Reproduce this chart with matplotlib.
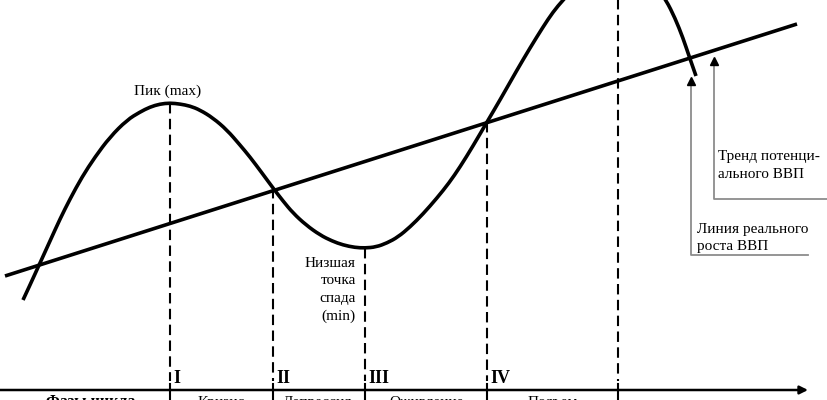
import numpy as np
import matplotlib
matplotlib.use("Agg")
import matplotlib.pyplot as plt
from matplotlib.path import Path
from matplotlib.patches import PathPatch

# ---- data (pixel-like units, y grows downward) ----
curve_x = [23, 30, 40, 50, 60, 70, 82, 95, 110, 127, 140, 150, 160, 170, 180, 190,
           200, 213, 227, 240, 250, 262, 273, 283, 293, 306, 320, 332, 343, 355, 365,
           376, 387, 398, 410, 423, 437, 449, 460, 473, 487, 500, 517, 530, 543, 553,
           563, 580, 600, 615, 630, 645, 656, 666, 675, 683, 689, 696]
curve_y = [300, 285, 263, 241, 219, 199, 177, 157, 137, 120, 112, 107, 104, 103, 104, 106,
           110, 118, 130, 145, 157, 173, 188, 201, 213, 225, 235, 241, 245, 247.5, 248,
           247, 243, 237, 227, 214, 198, 183, 167, 146, 122, 100, 70, 48, 27, 12,
           0, -18, -32, -36, -33, -24, -14, 0, 18, 38, 56, 76]

trend_x = [5, 797]
trend_y = [276, 24]

phase_x = [170, 273, 365, 487, 618]
phase_marks = ["I", "II", "III", "IV"]
phase_names = ["Кризис", "Депрессия", "Оживление", "Подъем"]
phase_name_x = [221, 318, 427, 553]
phases_title = "Фазы цикла →"

axis_y = 390
axis_end = 808

peak_label = "Пик (max)"
trough_lines = ["Низшая", "точка", "спада", "(min)"]
trend_label = ["Тренд потенци-", "ального ВВП"]
real_label = ["Линия реального", "роста ВВП"]

serif = ["Liberation Serif", "DejaVu Serif"]

fig = plt.figure(figsize=(8.28, 4.0), dpi=100)
ax = fig.add_axes([0, 0, 1, 1])
ax.set_xlim(0, 828)
ax.set_ylim(400, 0)
ax.axis("off")

# trend line
ax.plot(trend_x, trend_y, color="black", lw=2.6, solid_capstyle="butt", zorder=3)

# real growth curve, drawn as a smooth quadratic path through the read points
pts = np.column_stack([curve_x, curve_y]).astype(float)
n = len(pts)
verts = [pts[0]]
codes = [Path.MOVETO]
for i in range(1, n - 1):
    end = (pts[i] + pts[i + 1]) / 2 if i < n - 2 else pts[n - 1]
    verts += [pts[i], end]
    codes += [Path.CURVE3, Path.CURVE3]
ax.add_patch(PathPatch(Path(verts, codes), facecolor="none", edgecolor="black",
                       lw=2.6, capstyle="butt", zorder=3))

# dashed phase boundaries
for px in phase_x:
    top = float(np.interp(px, curve_x, curve_y))
    ax.plot([px, px], [max(top, -5), 381], color="black", lw=1.5,
            linestyle=(0, (5, 2.6)), zorder=2)
    ax.plot([px, px], [384, 402], color="black", lw=1.5, zorder=2)

# roman numerals
for px, lab in zip(phase_x, phase_marks):
    ax.text(px + 3, 383, lab, fontsize=13, fontweight="bold", family=serif,
            ha="left", va="baseline")

# time axis with arrow
ax.annotate("", xy=(axis_end, axis_y), xytext=(0, axis_y),
            arrowprops=dict(arrowstyle="-|>", color="black", lw=1.8,
                            mutation_scale=12, shrinkA=0, shrinkB=0))

# bottom phase names (cut off by the figure edge as in the reference)
ax.text(101, 406, phases_title, fontsize=11.5, fontweight="bold", family=serif,
        ha="center", va="baseline")
for nx, nm in zip(phase_name_x, phase_names):
    ax.text(nx, 406, nm, fontsize=11, family=serif, ha="center", va="baseline")

# peak / trough labels
ax.text(168, 95, peak_label, fontsize=11, family=serif, ha="center", va="baseline")
for i, ln in enumerate(trough_lines):
    ax.text(356, 267 + i * 17.5, ln, fontsize=11, family=serif,
            ha="right", va="baseline")

# right-hand callouts
gray = "#8c8c8c"
ax.plot([828, 714, 714], [199, 199, 64], color=gray, lw=1.3)
ax.plot([714], [61], marker="^", color="black", markersize=6, mec="black")
for i, ln in enumerate(trend_label):
    ax.text(718, 160 + i * 18, ln, fontsize=11, family=serif,
            ha="left", va="baseline")

ax.plot([808, 691, 691], [255, 255, 84], color=gray, lw=1.3)
ax.plot([691], [81], marker="^", color="black", markersize=6, mec="black")
for i, ln in enumerate(real_label):
    ax.text(697, 233 + i * 17, ln, fontsize=11, family=serif,
            ha="left", va="baseline")

fig.savefig("out.png", dpi=100)
